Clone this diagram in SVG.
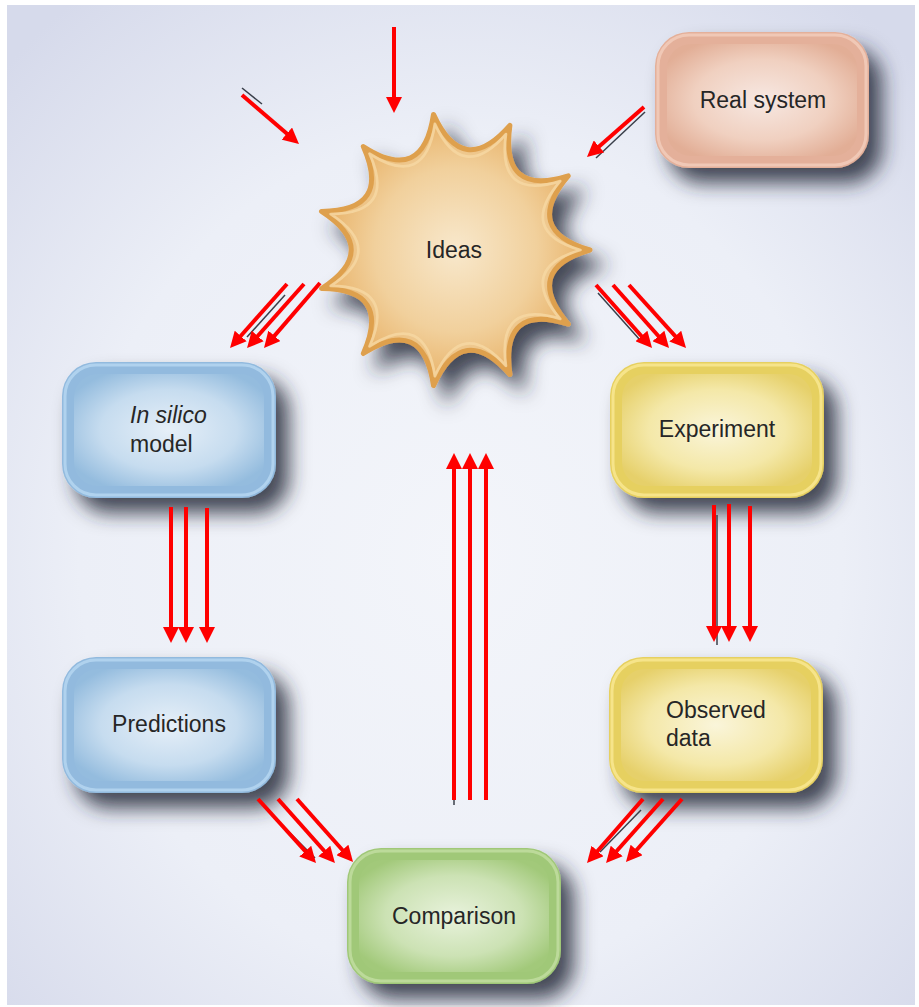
<svg xmlns="http://www.w3.org/2000/svg" width="919" height="1007" viewBox="0 0 919 1007">
<style>
.lbl{font-family:"Liberation Sans",Arial,sans-serif;font-size:23px;fill:#262626}
.ar{stroke:#ff0000;stroke-width:4;fill:none;marker-end:url(#ah)}
.dk{stroke:#3a3f4a;stroke-width:1.5;fill:none}
</style>
<defs>
<radialGradient id="bg" cx="0.5" cy="0.55" r="0.7">
<stop offset="0" stop-color="#f3f5fa"/>
<stop offset="0.6" stop-color="#eceff7"/>
<stop offset="1" stop-color="#d6daeb"/>
</radialGradient>
<filter id="sh" x="-20%" y="-20%" width="150%" height="160%">
<feDropShadow dx="13" dy="15" stdDeviation="10" flood-color="#262c38" flood-opacity="0.85"/>
</filter>
<radialGradient id="gR" cx="0.5" cy="0.5" r="0.6"><stop offset="0" stop-color="#f7e8e2"/><stop offset="0.6" stop-color="#f0d0c0"/><stop offset="1" stop-color="#e2ae96"/></radialGradient>
<radialGradient id="gB" cx="0.5" cy="0.5" r="0.6"><stop offset="0" stop-color="#e6eff8"/><stop offset="0.6" stop-color="#c6dcef"/><stop offset="1" stop-color="#94bcde"/></radialGradient>
<radialGradient id="gY" cx="0.5" cy="0.5" r="0.6"><stop offset="0" stop-color="#faf5da"/><stop offset="0.6" stop-color="#f4e8a8"/><stop offset="1" stop-color="#e6d06a"/></radialGradient>
<radialGradient id="gG" cx="0.5" cy="0.5" r="0.6"><stop offset="0" stop-color="#e8f2dc"/><stop offset="0.6" stop-color="#cce2b4"/><stop offset="1" stop-color="#a2c97a"/></radialGradient>
<radialGradient id="gS" cx="0.5" cy="0.5" r="0.55"><stop offset="0" stop-color="#f8e8cc"/><stop offset="0.55" stop-color="#f1d09c"/><stop offset="1" stop-color="#e6aa5a"/></radialGradient>
<marker id="ah" markerUnits="userSpaceOnUse" markerWidth="16" markerHeight="16" refX="6" refY="8" orient="auto" viewBox="0 0 16 16">
<path d="M0,0 L16,8 L0,16 z" fill="#ff0000"/>
</marker>
</defs>
<rect width="919" height="1007" fill="#ffffff"/>
<rect x="7" y="5" width="908" height="1000" fill="url(#bg)"/>

<g id="real-system">
<rect x="655" y="32" width="214" height="136" rx="34" fill="#e4b09a" filter="url(#sh)"/>
<rect x="658" y="35" width="208" height="130" rx="31" fill="none" stroke="#f0c8b6" stroke-width="3"/>
<rect x="667" y="44" width="190" height="112" rx="24" fill="url(#gR)"/>
<text class="lbl" x="763" y="108" text-anchor="middle">Real system</text>
</g>

<g id="ideas">
<path filter="url(#sh)" fill="url(#gS)" stroke="#dea04e" stroke-width="5" stroke-linejoin="round" d="M590,250 Q522,269.7 568.3,324.1 Q500,302.9 509.9,374.6 Q463,321 433.5,385.6 Q423,315 363.3,353.5 Q392,289 321.5,288.6 Q381,250 321.5,211.4 Q392,211 363.3,146.5 Q423,185 433.5,114.4 Q463,179 509.9,125.4 Q500,197.1 568.3,175.9 Q522,230.3 590,250 Z"/>
<path transform="translate(453,250) scale(0.93) translate(-453,-250)" fill="none" stroke="#f6d8a4" stroke-width="3" stroke-linejoin="round" opacity="0.8" d="M590,250 Q522,269.7 568.3,324.1 Q500,302.9 509.9,374.6 Q463,321 433.5,385.6 Q423,315 363.3,353.5 Q392,289 321.5,288.6 Q381,250 321.5,211.4 Q392,211 363.3,146.5 Q423,185 433.5,114.4 Q463,179 509.9,125.4 Q500,197.1 568.3,175.9 Q522,230.3 590,250 Z"/>
<text class="lbl" x="454" y="258" text-anchor="middle">Ideas</text>
</g>

<g id="in-silico-model">
<rect x="62" y="362" width="214" height="136" rx="34" fill="#92bade" filter="url(#sh)"/>
<rect x="65" y="365" width="208" height="130" rx="31" fill="none" stroke="#b0d2ee" stroke-width="3"/>
<rect x="74" y="374" width="190" height="112" rx="24" fill="url(#gB)"/>
<text class="lbl" x="130" y="423" font-style="italic">In silico</text>
<text class="lbl" x="130" y="452">model</text>
</g>

<g id="experiment">
<rect x="610" y="362" width="214" height="136" rx="34" fill="#e6d060" filter="url(#sh)"/>
<rect x="613" y="365" width="208" height="130" rx="31" fill="none" stroke="#f6e48a" stroke-width="3"/>
<rect x="622" y="374" width="190" height="112" rx="24" fill="url(#gY)"/>
<text class="lbl" x="717" y="437" text-anchor="middle">Experiment</text>
</g>

<g id="predictions">
<rect x="62" y="657" width="214" height="136" rx="34" fill="#92bade" filter="url(#sh)"/>
<rect x="65" y="660" width="208" height="130" rx="31" fill="none" stroke="#b0d2ee" stroke-width="3"/>
<rect x="74" y="669" width="190" height="112" rx="24" fill="url(#gB)"/>
<text class="lbl" x="169" y="732" text-anchor="middle">Predictions</text>
</g>

<g id="observed-data">
<rect x="609" y="657" width="214" height="136" rx="34" fill="#e6d060" filter="url(#sh)"/>
<rect x="612" y="660" width="208" height="130" rx="31" fill="none" stroke="#f6e48a" stroke-width="3"/>
<rect x="621" y="669" width="190" height="112" rx="24" fill="url(#gY)"/>
<text class="lbl" x="666" y="718">Observed</text>
<text class="lbl" x="666" y="746">data</text>
</g>

<g id="comparison">
<rect x="347" y="848" width="214" height="136" rx="34" fill="#a0c878" filter="url(#sh)"/>
<rect x="350" y="851" width="208" height="130" rx="31" fill="none" stroke="#bcda9a" stroke-width="3"/>
<rect x="359" y="860" width="190" height="112" rx="24" fill="url(#gG)"/>
<text class="lbl" x="454" y="924" text-anchor="middle">Comparison</text>
</g>

<g id="connectors">
<line class="dk" x1="242" y1="88" x2="262" y2="104"/>
<line class="dk" x1="645" y1="112" x2="596" y2="158"/>
<line class="dk" x1="285" y1="295" x2="247" y2="337"/>
<line class="dk" x1="598" y1="293" x2="640" y2="340"/>
<line class="dk" x1="717" y1="515" x2="717" y2="645"/>
<line class="dk" x1="287" y1="830" x2="315" y2="858"/>
<line class="dk" x1="641" y1="810" x2="600" y2="852"/>
<line class="dk" x1="454" y1="795" x2="454" y2="805"/>

<line class="ar" x1="394" y1="27" x2="394" y2="103"/>
<line class="ar" x1="242" y1="95" x2="291.4" y2="137.5"/>
<line class="ar" x1="644" y1="107" x2="594.5" y2="150.4"/>

<line class="ar" x1="287" y1="284" x2="236.7" y2="340.5"/>
<line class="ar" x1="304" y1="284" x2="253.7" y2="340.5"/>
<line class="ar" x1="320" y1="283" x2="270.5" y2="340.4"/>

<line class="ar" x1="596" y1="285" x2="645.4" y2="340.5"/>
<line class="ar" x1="613" y1="285" x2="662.4" y2="340.5"/>
<line class="ar" x1="629" y1="285" x2="679.3" y2="340.6"/>

<line class="ar" x1="171" y1="507" x2="171" y2="633"/>
<line class="ar" x1="186" y1="507" x2="186" y2="633"/>
<line class="ar" x1="207" y1="508" x2="207" y2="633"/>

<line class="ar" x1="714" y1="505" x2="714" y2="632"/>
<line class="ar" x1="729" y1="504" x2="729" y2="632"/>
<line class="ar" x1="750" y1="506" x2="750" y2="632"/>

<line class="ar" x1="258" y1="799" x2="309.3" y2="855.6"/>
<line class="ar" x1="278" y1="799" x2="328.3" y2="855.5"/>
<line class="ar" x1="297" y1="799" x2="346.4" y2="854.5"/>

<line class="ar" x1="643" y1="799" x2="593.6" y2="855.5"/>
<line class="ar" x1="663" y1="799" x2="612.7" y2="855.5"/>
<line class="ar" x1="682" y1="799" x2="632.6" y2="854.5"/>

<line class="ar" x1="454" y1="800" x2="454" y2="463"/>
<line class="ar" x1="470" y1="800" x2="470" y2="463"/>
<line class="ar" x1="486" y1="800" x2="486" y2="463"/>
</g>
</svg>
